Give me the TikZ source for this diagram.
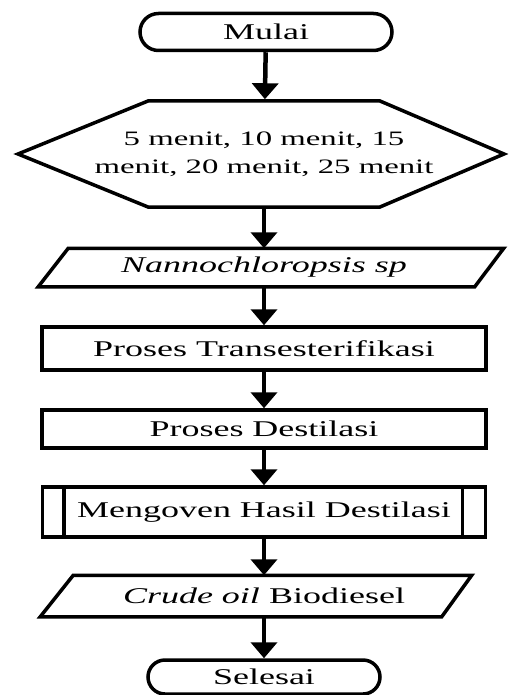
\documentclass[tikz,border=0pt]{standalone}
\usepackage{fontspec}
\setmainfont{Liberation Serif}
\newfontfamily\flowfont[FakeStretch=1.6]{Liberation Serif}
\usetikzlibrary{arrows.meta,shapes.misc}

\begin{document}
\begin{tikzpicture}[x=1pt,y=-1pt,line width=3.5pt]
  \useasboundingbox (0,0) rectangle (509,695);

      \begin{scope}[every node/.style={font=\fontsize{22.5}{29}\selectfont\flowfont,inner sep=0pt}]
        \node[draw,rounded rectangle,minimum width=252pt,minimum height=37pt] (mulai) at (266,32) {Mulai};
        \node[minimum width=232pt,minimum height=106pt,align=center,font=\fontsize{20.5}{28}\selectfont\flowfont] (waktu) at (264,154) {5 menit, 10 menit, 15\\menit, 20 menit, 25 menit};
        \node[minimum width=433pt,minimum height=35pt] (sampel) at (264,267.5) {\itshape Nannochloropsis sp};
        \node[draw,minimum width=444pt,minimum height=43pt] (trans) at (264,348.5) {Proses Transesterifikasi};
        \node[draw,minimum width=444pt,minimum height=38pt] (destilasi) at (264,429) {Proses Destilasi};
        \node[draw,minimum width=443pt,minimum height=50pt] (oven) at (264,512) {Mengoven Hasil Destilasi};
        \node[minimum width=396pt,minimum height=38pt] (hasil) at (264,596) {\itshape Crude oil\upshape{} Biodiesel};
        \node[draw,rounded rectangle,minimum width=232pt,minimum height=34pt] (selesai) at (264,677) {Selesai};
      \end{scope}

      % hexagon, parallelograms, side bars
      \draw ([shift={(-116,-53)}]waktu.center) -- ([shift={(116,-53)}]waktu.center) -- ([shift={(240,0)}]waktu.center)
        -- ([shift={(116,53)}]waktu.center) -- ([shift={(-116,53)}]waktu.center) -- ([shift={(-246,0)}]waktu.center) -- cycle;
      \draw ([xshift=22.5pt]sampel.north west) -- ([xshift=21.5pt]sampel.north east)
        -- ([xshift=-7.5pt]sampel.south east) -- ([xshift=-7.5pt]sampel.south west) -- cycle;
      \draw ([xshift=9pt]hasil.north west) -- ([xshift=8pt]hasil.north east)
        -- ([xshift=-22pt]hasil.south east) -- ([xshift=-24pt]hasil.south west) -- cycle;
      \draw ([xshift=23pt]oven.north west) -- ([xshift=23pt]oven.south west);
      \draw ([xshift=-25pt]oven.north east) -- ([xshift=-25pt]oven.south east);

      \begin{scope}[every edge/.style={draw,line width=4.5pt,-{Triangle[width=26pt,length=16pt]}}]
        \path (mulai) edge (waktu);
        \path (waktu) edge (sampel);
        \path (sampel) edge (trans);
        \path (trans) edge (destilasi);
        \path (destilasi) edge (oven);
        \path (oven) edge (hasil);
        \path (hasil) edge (selesai);
      \end{scope}

    \end{tikzpicture}
\end{document}
